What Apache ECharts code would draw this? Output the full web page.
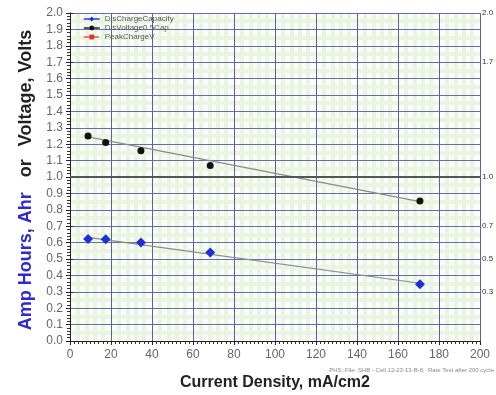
<!DOCTYPE html>
<html>
<head>
<meta charset="utf-8">
<script src="https://cdn.jsdelivr.net/npm/echarts@6.0.0/dist/echarts.min.js"></script>
<style>
  html, body { margin: 0; padding: 0; background: #fff; }
  #chart { width: 496px; height: 395px; }
</style>
</head>
<body>
<div id="chart"></div>
<script>
// values
const currentDensity = [8.8, 17.4, 34.6, 68.4, 170.7]
const disChargeCapacity = [0.622, 0.620, 0.600, 0.540, 0.346]
const disVoltage = [1.25, 1.21, 1.16, 1.07, 0.854]
const capacityTrend = [[8.8, 0.632], [170.7, 0.352]]
const voltageTrend = [[8.8, 1.245], [170.7, 0.85]]
const rightTicks = [0.3, 0.5, 0.7, 1.0, 1.7, 2.0]
const legendNames = ['DisChargeCapacity', 'DisVoltage0.5Cap', 'PeakChargeV']

const chart = echarts.init(document.getElementById('chart'))

const pairs = (xs, ys) => xs.map((x, i) => [x, ys[i]])

// hidden axes that only paint the light green checker under the main grid
// (first colour transparent so nothing sits on the major lines)
const patternAxis = (max, interval, perMajor) => {
  const colors = ['rgba(0,0,0,0)']
  for (let i = 1; i < perMajor; i++) colors.push('#e9f5e1')
  return {
    type: 'value',
    min: 0, max: max, interval: interval,
    z: 0,
    axisLine: { show: false },
    axisTick: { show: false },
    axisLabel: { show: false },
    splitLine: { show: true, lineStyle: { color: colors, width: 4 } }
  }
}

const option = {
  animation: false,
  textStyle: { fontFamily: 'Liberation Sans, Arial, sans-serif' },
  grid: {
    left: 70, right: 16, top: 13, bottom: 54,
    outerBoundsMode: 'none',
    show: true,
    backgroundColor: '#fbfdf9',
    borderWidth: 0
  },
  legend: {
    data: [
      { name: legendNames[0], lineStyle: { color: '#2b3bd0', width: 1.5 } },
      { name: legendNames[1], lineStyle: { color: '#222', width: 1.5 } },
      { name: legendNames[2], lineStyle: { color: '#e05050', width: 1.5, type: 'dashed' } }
    ],
    orient: 'vertical',
    left: 78,
    top: 10,
    itemWidth: 16,
    itemHeight: 6,
    itemGap: 1,
    textStyle: { fontSize: 8, color: '#555' }
  },
  xAxis: [
    {
      type: 'value',
      min: 0, max: 200, interval: 20,
      z: 1,
      name: 'Current Density, mA/cm2',
      nameLocation: 'middle',
      nameGap: 34,
      nameTextStyle: { fontSize: 16, fontWeight: 'bold', color: '#222' },
      axisLine: { show: true, lineStyle: { color: '#222', width: 1 } },
      axisTick: { show: true, length: 4, lineStyle: { color: '#222' } },
      minorTick: { show: true, splitNumber: 10, length: 3, lineStyle: { color: '#333' } },
      axisLabel: { fontSize: 12, color: '#666', margin: 8 },
      splitLine: { show: true, lineStyle: { color: '#5f5fa8', width: 1 } }
    },
    patternAxis(200, 4, 5)
  ],
  yAxis: [
    {
      type: 'value',
      min: 0, max: 2, interval: 0.1,
      z: 1,
      name: '{b|Amp Hours, Ahr}{o|or}{k|Voltage, Volts}',
      nameLocation: 'middle',
      nameGap: 34,
      nameRotate: 90,
      nameTextStyle: {
        rich: {
          b: { fontSize: 18, fontWeight: 'bold', color: '#2b2bd0', padding: [0, 15, 0, 0] },
          o: { fontSize: 18, fontWeight: 'bold', color: '#222', padding: [0, 13, 0, 0] },
          k: { fontSize: 18, fontWeight: 'bold', color: '#222', padding: [0, 6, 0, 0] }
        }
      },
      axisLine: { show: true, lineStyle: { color: '#222', width: 1 } },
      axisTick: { show: true, length: 4, lineStyle: { color: '#222' } },
      minorTick: { show: true, splitNumber: 5, length: 3, lineStyle: { color: '#333' } },
      axisLabel: { fontSize: 12, color: '#666', margin: 7, formatter: v => v.toFixed(1) },
      splitLine: { show: true, lineStyle: { color: '#6a6ab0', width: 1 } }
    },
    {
      type: 'value',
      position: 'right',
      min: 0, max: 2, interval: 0.1,
      z: 1,
      axisLine: { show: true, lineStyle: { color: '#222', width: 1 } },
      axisTick: { show: true, length: 3, customValues: rightTicks, lineStyle: { color: '#222' } },
      axisLabel: {
        fontSize: 8, color: '#333', margin: 2,
        customValues: rightTicks,
        formatter: v => v.toFixed(1)
      },
      splitLine: { show: false }
    },
    patternAxis(2, 0.05, 2)
  ],
  graphic: [
    {
      type: 'text',
      right: 2,
      top: 367,
      style: {
        text: 'PHS: File: SHB - Cell 12-23-13-B-6,  Rate Test after 200 cycle',
        fontSize: 6, fill: '#888', fontFamily: 'Liberation Sans, Arial'
      }
    }
  ],
  series: [
    {
      name: 'oneVolt',
      type: 'line',
      data: [],
      markLine: {
        silent: true,
        symbol: 'none',
        label: { show: false },
        lineStyle: { color: '#555', width: 2, type: 'solid' },
        data: [{ yAxis: 1.0 }]
      }
    },
    {
      name: 'capTrend',
      type: 'line',
      data: capacityTrend,
      showSymbol: false,
      lineStyle: { color: '#8a8a8a', width: 1.2 }
    },
    {
      name: 'voltTrend',
      type: 'line',
      data: voltageTrend,
      showSymbol: false,
      lineStyle: { color: '#8a8a8a', width: 1.2 }
    },
    {
      name: legendNames[0],
      type: 'line',
      data: pairs(currentDensity, disChargeCapacity),
      symbol: 'diamond',
      symbolSize: 10,
      lineStyle: { width: 0 },
      itemStyle: { color: '#1f2fd6' },
      z: 5
    },
    {
      name: legendNames[1],
      type: 'line',
      data: pairs(currentDensity, disVoltage),
      symbol: 'circle',
      symbolSize: 7,
      lineStyle: { width: 0 },
      itemStyle: { color: '#111' },
      z: 5
    },
    {
      name: legendNames[2],
      type: 'line',
      data: [],
      symbol: 'rect',
      symbolSize: 6,
      lineStyle: { width: 0 },
      itemStyle: { color: '#e03030' }
    }
  ]
}

chart.setOption(option)
</script>
</body>
</html>
